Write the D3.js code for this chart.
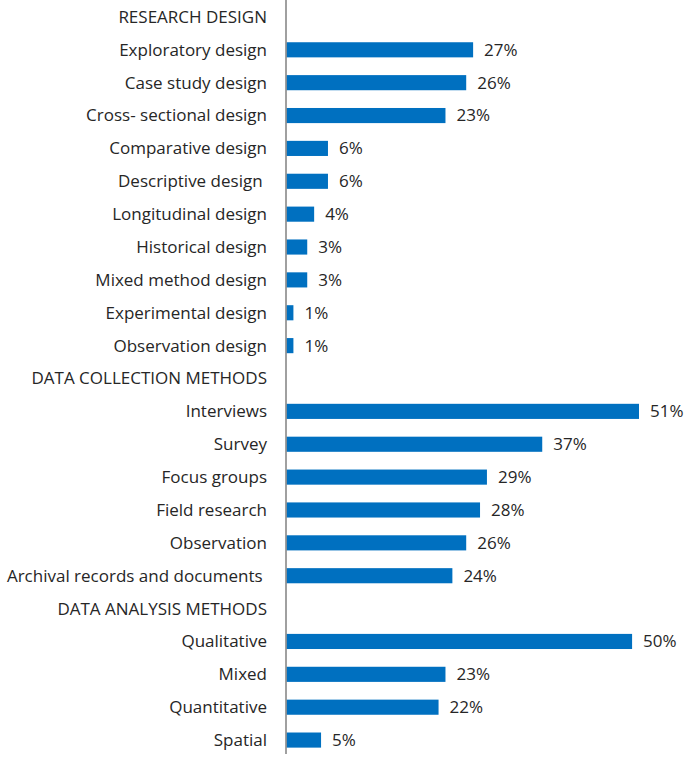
<!DOCTYPE html>
<html><head><meta charset="utf-8">
<script src="https://cdn.jsdelivr.net/npm/d3@7"></script>
<style>body{margin:0;background:#fff}text{white-space:pre}</style>
</head><body>
<svg id="c" width="685" height="757"></svg>
<script>
const categories = ["RESEARCH DESIGN","Exploratory design","Case study design","Cross- sectional design","Comparative design","Descriptive design ","Longitudinal design","Historical design","Mixed method design","Experimental design","Observation design","DATA COLLECTION METHODS","Interviews","Survey","Focus groups","Field research","Observation","Archival records and documents ","DATA ANALYSIS METHODS","Qualitative","Mixed","Quantitative","Spatial"];
const values = [null,27,26,23,6,6,4,3,3,1,1,null,51,37,29,28,26,24,null,50,23,22,5];

const svg = d3.select("#c");
const x0 = 286.5;
const x = d3.scaleLinear().domain([0,51]).range([x0, 639]);
const y = d3.scaleBand().domain(categories).range([0.5, 756.5]).paddingInner(0.54).paddingOuter(0.27);
const font = "'Open Sans', sans-serif";
const fs = 17;

svg.selectAll("rect.bar").data(categories.map((c,i)=>({c,v:values[i]})).filter(d=>d.v!=null))
  .enter().append("rect").attr("class","bar")
  .attr("x", x0).attr("y", d=>y(d.c)).attr("height", y.bandwidth())
  .attr("width", d=>x(d.v)-x0).attr("fill","#0070C0");

svg.selectAll("text.lab").data(categories).enter().append("text").attr("class","lab")
  .attr("x", 267).attr("y", d=>y(d)+y.bandwidth()/2).attr("dy","0.35em")
  .attr("text-anchor","end").attr("font-family",font).attr("font-size",fs).attr("fill","#262626")
  .text(d=>d);

svg.selectAll("text.val").data(categories.map((c,i)=>({c,v:values[i]})).filter(d=>d.v!=null))
  .enter().append("text").attr("class","val")
  .attr("x", d=>x(d.v)+11).attr("y", d=>y(d.c)+y.bandwidth()/2).attr("dy","0.35em")
  .attr("font-family",font).attr("font-size",fs).attr("fill","#262626")
  .text(d=>d.v+"%");

svg.append("line").attr("x1",x0-0.5).attr("x2",x0-0.5).attr("y1",0).attr("y2",754)
  .attr("stroke","#808080").attr("stroke-width",1.5);
</script>
</body></html>
